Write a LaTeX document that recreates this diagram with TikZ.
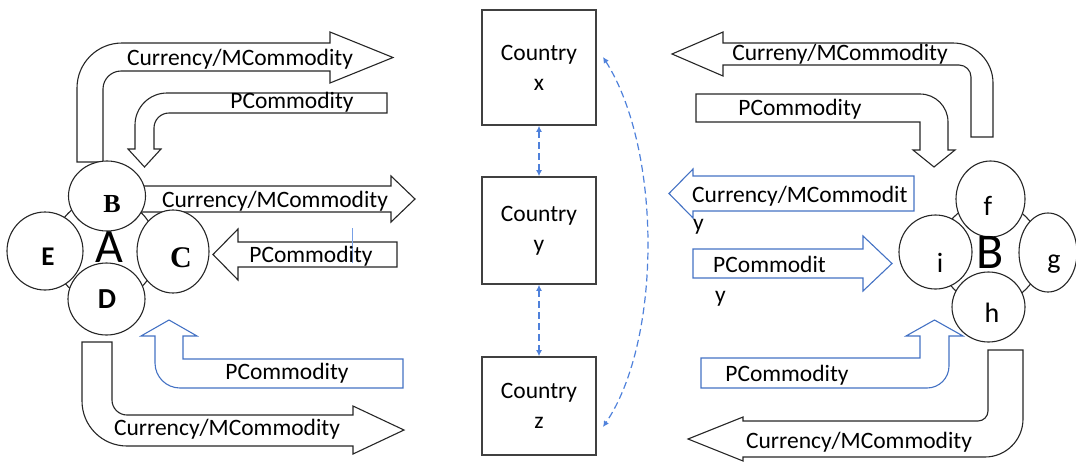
\documentclass[tikz,border=0pt]{standalone}
\usepackage{fontspec}
\setmainfont{Carlito}
\newfontfamily\timesfont{Liberation Serif}
\usetikzlibrary{arrows.meta,shapes.geometric}
\definecolor{flowblue}{RGB}{68,114,196}
\definecolor{dashblue}{RGB}{79,129,219}
\definecolor{markblue}{RGB}{120,160,230}

\begin{document}
\begin{tikzpicture}[x=1pt,y=-1pt,
  flow/.style={draw=black!85,line width=1.1pt,fill=white,line join=miter},
  flowb/.style={draw=flowblue,line width=1.1pt,fill=white,line join=miter},
  lbl/.style={anchor=base,inner sep=0pt,font=\fontsize{23.5}{28}\selectfont},
  lblw/.style={lbl,anchor=base west},
  bubble/.style={ellipse,draw=black!85,line width=1.1pt,fill=white,inner sep=0pt},
  hub/.style={circle,draw=black!85,line width=1.1pt,inner sep=0pt},
  serifletter/.style={anchor=base,inner sep=0pt,font=\timesfont\bfseries\fontsize{27}{30}\selectfont},
  sansletter/.style={anchor=base,inner sep=0pt,font=\bfseries\fontsize{27}{30}\selectfont},
  plainletter/.style={anchor=base,inner sep=0pt,font=\fontsize{28}{30}\selectfont},
  bigletter/.style={anchor=base,inner sep=0pt,font=\fontsize{48}{50}\selectfont},
  country/.style={draw=black!75,line width=1.6pt,align=center,inner sep=0pt,
    font=\fontsize{23.5}{30}\selectfont,minimum width=114pt},
  link/.style={draw=dashblue,line width=1.2pt,dash pattern=on 7pt off 4pt,
    {Latex[length=6pt,width=6pt]}-{Latex[length=6pt,width=6pt]}}
]
\useasboundingbox (0,0) rectangle (1076,461);

% ---------- left group: flows ----------
% top: currency out, bending right
\draw[flow] (77,162) -- (77,88) .. controls (77,63.1) and (97.1,43) .. (122,43)
  -- (330,43) -- (330,32) -- (393,57.5) -- (330,83) -- (330,71)
  -- (121,71) .. controls (111.1,71) and (103,79.1) .. (103,89) -- (103,162) -- cycle;
% top: commodity in, bending down
\draw[flow] (387,93) -- (167,93) .. controls (149.3,93) and (135,107.3) .. (135,125)
  -- (135,149) -- (128,149) -- (144.5,167) -- (161,149) -- (154,149)
  -- (154,128) .. controls (154,119.7) and (160.7,113) .. (169,113) -- (387,113) -- cycle;
% middle: currency out
\draw[flow] (140,186) -- (391,186) -- (391,176) -- (415,199) -- (391,222)
  -- (391,212) -- (140,212) -- cycle;
% middle: commodity in
\draw[flow] (397,242) -- (238,242) -- (238,229) -- (213,254.5) -- (238,280)
  -- (238,267) -- (397,267) -- cycle;
\draw[markblue,line width=0.6pt] (352,228) -- (352,263);
% bottom: commodity in, bending up
\draw[flowb] (403,359) -- (183,359) -- (183,336) -- (197,336) -- (169,320)
  -- (141,336) -- (155,336) -- (155,363) .. controls (155,376.8) and (166.2,388) .. (180,388)
  -- (403,388) -- cycle;
% bottom: currency out, bending right
\draw[flow] (82,342) -- (82,401) .. controls (82,425.9) and (102.1,446) .. (127,446)
  -- (353,446) -- (353,454) -- (404,430) -- (353,406) -- (353,415)
  -- (127,415) .. controls (118.7,415) and (112,408.3) .. (112,400) -- (112,342) -- cycle;

% ---------- left group: members ----------
\node[hub,minimum size=104pt] (hubA) at (105,250) {};
\node[bubble,minimum width=77pt,minimum height=70pt] (nB) at (107,196) {};
\node[bubble,minimum width=76pt,minimum height=78pt] (nE) at (45,251) {};
\node[bubble,minimum width=72pt,minimum height=83pt] (nC) at (173,251.5) {};
\node[bubble,minimum width=77pt,minimum height=72pt] (nD) at (106.5,299) {};
\node[bigletter] (lA) at (109,262) {A};
\node[serifletter,font=\timesfont\bfseries\fontsize{26}{30}\selectfont] (lB) at (112,212) {B};
\node[sansletter] (lE) at (48,265) {E};
\node[serifletter,font=\timesfont\bfseries\fontsize{30}{32}\selectfont] (lC) at (181,267) {C};
\node[sansletter,font=\bfseries\fontsize{29}{30}\selectfont] (lD) at (107,308) {D};

% ---------- left group: labels ----------
\node[lbl] (t1) at (240,65) {Currency/MCommodity};
\node[lbl] (t2) at (292,108) {PCommodity};
\node[lbl] (t3) at (275,207) {Currency/MCommodity};
\node[lbl] (t4) at (311,262) {PCommodity};
\node[lbl] (t5) at (287,379) {PCommodity};
\node[lbl] (t6) at (227,435) {Currency/MCommodity};

% ---------- countries ----------
\node[country,minimum height=115pt] (cx) at (539,67.5) {Country\\x};
\node[country,minimum height=107pt] (cy) at (539,230.5) {Country\\y};
\node[country,minimum height=98pt] (cz) at (539,406) {Country\\z};
\draw[link] (cx.south) -- (cy.north);
\draw[link] (cy.south) -- (cz.north);
\coordinate (xr) at (603,57);
\coordinate (zr) at (603,427);
\draw[link] (xr) .. controls (662,150) and (662,340) .. (zr);

% ---------- right group: flows ----------
% top: currency out, bending left
\draw[flow] (993,137) -- (993,83) .. controls (993,60.9) and (975.1,43) .. (953,43)
  -- (723,43) -- (723,32) -- (672,54) -- (723,76) -- (723,65)
  -- (959,65) .. controls (965.6,65) and (971,70.4) .. (971,77) -- (971,137) -- cycle;
% top: commodity in, bending down
\draw[flow] (696,94) -- (920,94) .. controls (935.5,94) and (948,106.5) .. (948,122)
  -- (948,150) -- (955,150) -- (934,167) -- (913,150) -- (920,150)
  -- (920,122) -- (696,122) -- cycle;
% middle: currency out
\draw[flowb] (914,176) -- (693,176) -- (693,169) -- (669,193.5) -- (693,218)
  -- (693,211) -- (914,211) -- cycle;
% middle: commodity in
\draw[flowb] (693,249) -- (863,249) -- (863,236) -- (892,263.5) -- (863,291)
  -- (863,278) -- (693,278) -- cycle;
% bottom: commodity in, bending up
\draw[flowb] (701,358) -- (920,358) -- (920,336) -- (906,336) -- (934.5,320)
  -- (963,336) -- (949,336) -- (949,366) .. controls (949,378.2) and (939.2,388) .. (927,388)
  -- (701,388) -- cycle;
% bottom: currency out, bending left
\draw[flow] (988,350) -- (988,411) .. controls (988,416.5) and (983.5,421) .. (978,421)
  -- (743,421) -- (743,417) -- (688,439) -- (743,461) -- (743,457)
  -- (985,457) .. controls (1006,457) and (1023,440) .. (1023,419) -- (1023,350) -- cycle;

% ---------- right group: members ----------
\node[hub,minimum size=102pt] (hubB) at (990,253) {};
\node[bubble,minimum width=69pt,minimum height=76pt] (nf) at (990.5,199) {};
\node[bubble,minimum width=73pt,minimum height=74pt] (ni) at (935.5,252) {};
\node[bubble,minimum width=58pt,minimum height=79pt] (ng) at (1048,252.5) {};
\node[bubble,minimum width=73pt,minimum height=70pt] (nh) at (988.5,307) {};
\node[bigletter,font=\fontsize{50}{52}\selectfont] (lBB) at (990,268) {B};
\node[plainletter] (lf) at (988,215) {f};
\node[plainletter] (li) at (940,272) {i};
\node[plainletter] (lg) at (1054,268) {g};
\node[plainletter] (lh) at (992,322) {h};

% ---------- right group: labels ----------
\node[lbl] (t7) at (840,60) {Curreny/MCommodity};
\node[lbl] (t8) at (800,115) {PCommodity};
\node[lblw] (t9) at (692,202) {Currency/MCommodit};
\node[lblw] (t9b) at (693,230) {y};
\node[lblw] (t10) at (713,272) {PCommodit};
\node[lblw] (t10b) at (715,302) {y};
\node[lbl] (t11) at (787,381) {PCommodity};
\node[lbl] (t12) at (859,448) {Currency/MCommodity};
\end{tikzpicture}
\end{document}
